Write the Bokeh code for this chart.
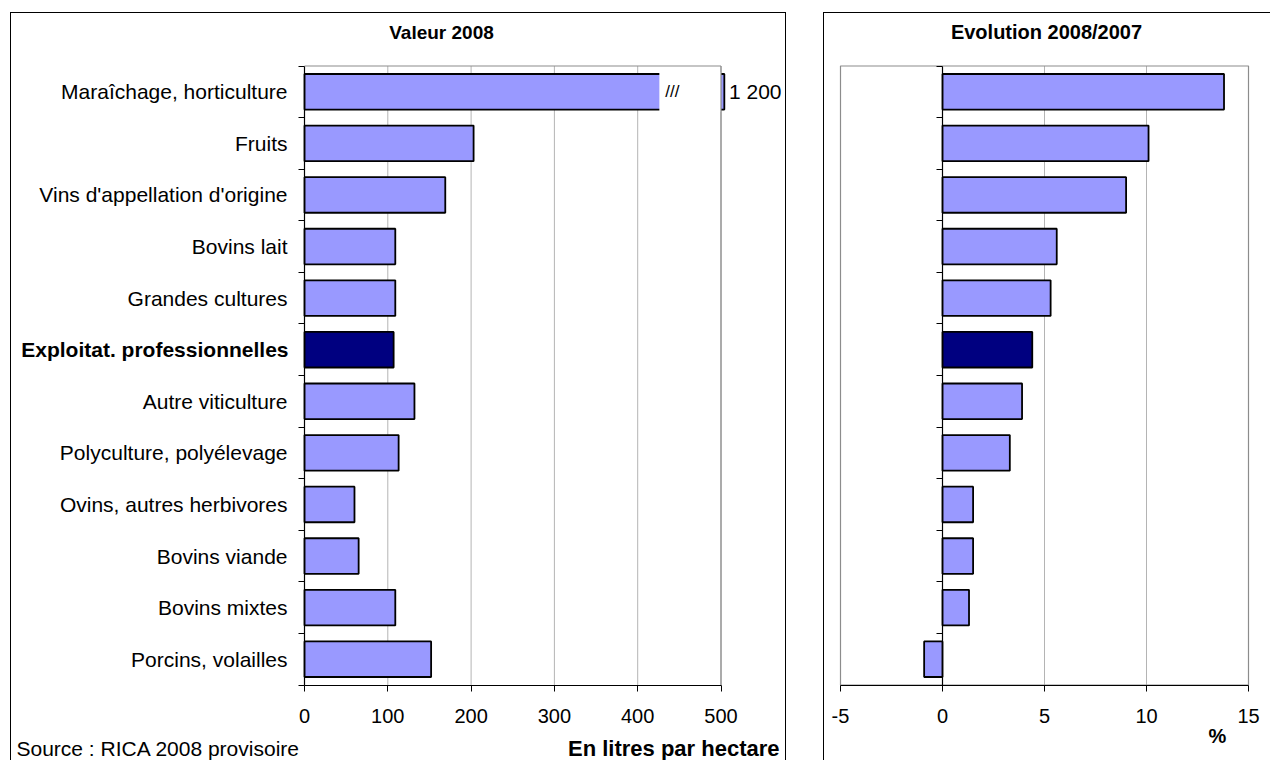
from bokeh.core.properties import value
from bokeh.embed import file_html
from bokeh.layouts import column, row
from bokeh.models import FixedTicker, Range1d, Spacer
from bokeh.plotting import figure
from bokeh.resources import INLINE

# ---- data -------------------------------------------------------------
categories = [
    "Maraîchage, horticulture",
    "Fruits",
    "Vins d'appellation d'origine",
    "Bovins lait",
    "Grandes cultures",
    "Exploitat. professionnelles",
    "Autre viticulture",
    "Polyculture, polyélevage",
    "Ovins, autres herbivores",
    "Bovins viande",
    "Bovins mixtes",
    "Porcins, volailles",
]
valeur_2008 = [1200, 203, 169, 109, 109, 107, 132, 113, 60, 65, 109, 152]   # litres / ha
evolution = [13.8, 10.1, 9.0, 5.6, 5.3, 4.4, 3.9, 3.3, 1.5, 1.5, 1.3, -0.9]  # % 2008/2007
highlight = "Exploitat. professionnelles"
value_ticks = [0, 100, 200, 300, 400, 500]
evolution_ticks = [-5, 0, 5, 10, 15]
break_start = 426          # where the out-of-scale bar is cut

# ---- styling ----------------------------------------------------------
FONT = "Liberation Sans"
LIGHT = "#9999ff"
DARK = "#000080"
GRID = "#b4b4b4"
FRAME = "#8c8c8c"
BAR_H = 0.69

# panel canvases (px) and where the plotting area sits inside them
PANEL_H = 748
PLOT_TOP, PLOT_BOTTOM = 52.5, 671.5          # from the top of the canvas
LEFT_W, LEFT_PLOT = 776, (293.0, 709.5)      # left panel width, plot x-extent
RIGHT_W, RIGHT_PLOT = 447, (16.0, 424.0)     # right panel width, plot x-extent

n = len(categories)
centers = [n - 0.5 - i for i in range(n)]
bounds = list(range(n + 1))
colors = [DARK if c == highlight else LIGHT for c in categories]


def span_range(d0, d1, p0, p1, size):
    """Data range whose [d0, d1] lands on pixels [p0, p1] of a canvas of `size` px."""
    k = (p1 - p0) / (d1 - d0)
    return Range1d(d0 - p0 / k, d1 + (size - p1) / k)


y_range_px = (PANEL_H - PLOT_BOTTOM, PANEL_H - PLOT_TOP)   # measured from the bottom


def make_panel(width, x_lo, x_hi, plot_px, border_style, label_ticks):
    p = figure(width=width, height=PANEL_H,
               x_range=span_range(x_lo, x_hi, plot_px[0], plot_px[1], width),
               y_range=span_range(0, n, y_range_px[0], y_range_px[1], PANEL_H),
               output_backend="svg", toolbar_location=None, min_border=0)
    p.title.visible = False
    p.outline_line_color = None
    p.background_fill_color = "white"
    p.border_fill_color = "white"
    p.xgrid.visible = False
    p.ygrid.visible = False
    p.styles = border_style

    xa = p.xaxis[0]
    xa.fixed_location = 0
    xa.bounds = (x_lo, x_hi)
    xa.axis_line_color = "black"
    xa.axis_line_width = 1.2
    xa.major_tick_line_color = "black"
    xa.major_tick_out = 6
    xa.major_tick_in = 0
    xa.minor_tick_line_color = None
    xa.major_label_text_font = FONT
    xa.major_label_text_font_size = "20px"
    xa.major_label_text_color = "black"
    xa.major_label_standoff = 18

    # category axis through zero: tick marks between categories
    ya = p.yaxis[0]
    ya.fixed_location = 0
    ya.bounds = (0, n)
    ya.ticker = FixedTicker(ticks=label_ticks, minor_ticks=bounds)
    ya.axis_line_color = "black"
    ya.axis_line_width = 1.2
    ya.major_tick_line_color = None
    ya.major_tick_out = 0
    ya.major_tick_in = 0
    ya.minor_tick_line_color = "black"
    ya.minor_tick_out = 6
    ya.minor_tick_in = 0
    ya.major_label_standoff = 11
    ya.major_label_text_font = FONT
    ya.major_label_text_font_size = "21px"
    ya.major_label_text_color = "black"
    return p


def text(p, x, y, s, dx=0, dy=0, align="left", size="20px", style="normal"):
    p.text(x=[x], y=[y], text=[s], x_offset=dx, y_offset=dy, text_align=align,
           text_baseline="middle", text_font=value(FONT), text_font_size=size,
           text_font_style=style, text_color="black")


# ---- left panel : value 2008 -------------------------------------------
x_end = value_ticks[-1]
plain = [(c, cat) for c, cat in zip(centers, categories) if cat != highlight]
p1 = make_panel(LEFT_W, value_ticks[0], x_end, LEFT_PLOT,
                {"border-top": "1px solid black", "border-left": "1px solid black",
                 "border-right": "1px solid black", "box-sizing": "border-box"},
                [c for c, _ in plain])
p1.xaxis.ticker = FixedTicker(ticks=value_ticks)
p1.yaxis.major_label_overrides = {c: cat for c, cat in plain}

grid1 = value_ticks[1:]
p1.segment(x0=grid1, x1=grid1, y0=0, y1=n, line_color=GRID, line_width=1)
p1.segment(x0=[value_ticks[0]], x1=[x_end], y0=[n], y1=[n], line_color=FRAME, line_width=1.2)

# bars, the off-scale one stopping just past the axis end
shown = [min(v, x_end + 4) for v in valeur_2008]
p1.hbar(y=centers, left=0, right=shown, height=BAR_H,
        fill_color=colors, line_color="black", line_width=1.8)

# scale break on the bar that runs off the axis
for i, v in enumerate(valeur_2008):
    if v > x_end:
        p1.quad(left=[break_start], right=[x_end], top=[centers[i] + BAR_H / 2 + 0.04],
                bottom=[centers[i] - BAR_H / 2 - 0.04], fill_color="white", line_color=None)
        text(p1, break_start, centers[i], "///", dx=6, size="17px")
        text(p1, x_end, centers[i], f"{v:,}".replace(",", " "), dx=8, size="21px")

# bold category label for the whole-farm average
ih = categories.index(highlight)
text(p1, 0, centers[ih], highlight, dx=-16, align="right", size="21px", style="bold")

text(p1, 0, n, "Valeur 2008", dx=137, dy=-34, align="center", size="19px", style="bold")
text(p1, 0, 0, "Source : RICA 2008 provisoire", dx=-288, dy=63, size="21px")
text(p1, 0, 0, "En litres par hectare", dx=475, dy=63, align="right", size="22px", style="bold")

# right edge of the plotting frame
p1.segment(x0=[x_end], x1=[x_end], y0=[0], y1=[n], line_color=FRAME, line_width=1.2)

# ---- right panel : evolution 2008/2007 ---------------------------------
p2 = make_panel(RIGHT_W, evolution_ticks[0], evolution_ticks[-1], RIGHT_PLOT,
                {"border-top": "1px solid black", "border-left": "1px solid black",
                 "box-sizing": "border-box"},
                [])
p2.xaxis.ticker = FixedTicker(ticks=evolution_ticks)
p2.xaxis.major_label_overrides = {t: str(t) for t in evolution_ticks}

grid2 = [t for t in evolution_ticks if 0 < t < evolution_ticks[-1]]
p2.segment(x0=grid2, x1=grid2, y0=0, y1=n, line_color=GRID, line_width=1)
p2.quad(left=[evolution_ticks[0]], right=[evolution_ticks[-1]], bottom=[0], top=[n],
        fill_color=None, line_color=FRAME, line_width=1.2)

p2.hbar(y=centers, left=0, right=evolution, height=BAR_H,
        fill_color=colors, line_color="black", line_width=1.8)

text(p2, evolution_ticks[0], n, "Evolution 2008/2007", dx=206, dy=-34,
     align="center", size="20px", style="bold")
text(p2, evolution_ticks[-1], 0, "%", dx=-31, dy=51, align="center", size="20px", style="bold")

layout = column(Spacer(height=12), row(Spacer(width=10), p1, Spacer(width=37), p2))

open("out.html", "w").write(file_html(layout, INLINE))
